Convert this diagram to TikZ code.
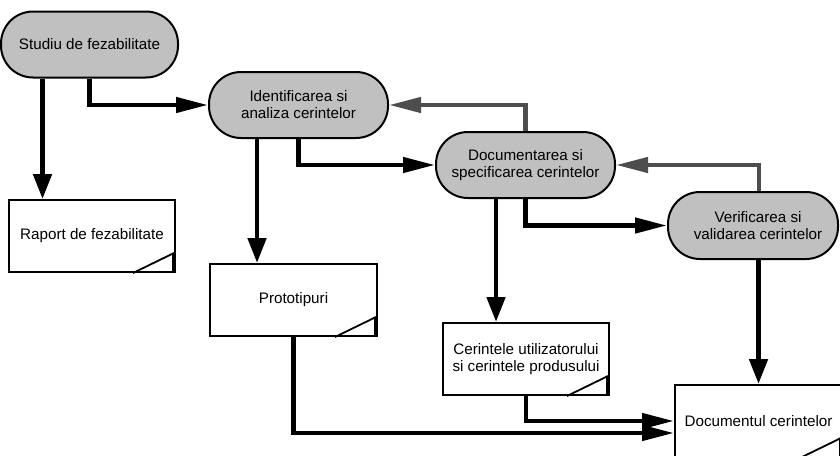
\documentclass[tikz,border=0pt]{standalone}
\usepackage{fontspec}
\setmainfont{Liberation Sans}
\usetikzlibrary{arrows.meta,calc}
\definecolor{nodegray}{HTML}{C0C0C0}
\definecolor{backgray}{HTML}{4D4D4D}
\tikzset{
  proc/.style={draw=black, line width=2pt, fill=nodegray, rounded corners=32pt,
    minimum width=#1, minimum height=66pt, inner sep=0pt, align=center,
    font=\fontsize{15.2}{17}\selectfont},
  proc/.default=179pt,
  docbox/.style={draw=black, line width=2pt, fill=white,
    minimum width=166pt, minimum height=72pt, inner sep=0pt, align=center,
    font=\fontsize{15.2}{17}\selectfont},
  harr/.style={draw=black, line width=4.5pt, -{Triangle[length=32pt,width=15pt]}},
  varr/.style={draw=black, line width=4.8pt, -{Triangle[length=25pt,width=18pt]}},
  back/.style={draw=backgray, line width=4.3pt, -{Triangle[length=32pt,width=15pt]}},
  fold/.style={draw=black, line width=1.8pt},
  foldedge/.style={draw=black, line width=4pt}
}
\newcommand{\docfold}[1]{%
  \draw[fold] ([xshift=-43pt]#1.south east) -- ([xshift=-2pt,yshift=20pt]#1.south east);
  \draw[foldedge] ([xshift=-2pt,yshift=20pt]#1.south east) -- ([xshift=-2pt]#1.south east);
}
\begin{document}
\begin{tikzpicture}[x=1pt,y=-1pt]
\clip (0,0) rectangle (840,455);
\fill[white] (0,0) rectangle (840,455);

% process nodes
\node[proc=177pt] (S) at (89.5,44.5) {Studiu de fezabilitate};
\node[proc] (I) at (298.5,105) {Identificarea si\\analiza cerintelor};
\node[proc] (D) at (525.5,165) {Documentarea si\\specificarea cerintelor};
\node[proc=170pt, minimum height=67pt] (V) at (753,225.5) {\hspace*{10pt}Verificarea si\\\hspace*{10pt}validarea cerintelor};

% document boxes
\node[docbox] (R) at (92,236) {Raport de fezabilitate};
\node[docbox, minimum width=167pt] (P) at (293.5,300) {Prototipuri};
\node[docbox] (C) at (526,359) {Cerintele utilizatorului\\si cerintele produsului};
\node[docbox, minimum width=167pt] (Doc) at (758.5,421) {Documentul cerintelor};
\docfold{R}
\docfold{P}
\docfold{C}
\docfold{Doc}

% connectors
\draw[varr] ([xshift=-47pt]S.south) -- ([xshift=-47pt]S.south |- R.north);
\draw[harr] (S.south) |- (I.west);
\draw[varr] ([xshift=-41.5pt]I.south) -- ([xshift=-41.5pt]I.south |- P.north);
\draw[harr] (I.south) |- (D.west);
\draw[back] (D.north) |- (I.east);
\draw[varr] ([xshift=-29.5pt]D.south) -- ([xshift=-29.5pt]D.south |- C.north);
\draw[harr] (D.south) |- (V.west);
\draw[back] ([xshift=6pt]V.north) |- (D.east);
\draw[varr] (Doc.north |- V.south) -- (Doc.north);
\draw[harr] (C.south) |- (Doc.west);
\draw[harr] (P.south) |- ([yshift=-12pt]Doc.west);
\end{tikzpicture}
\end{document}
